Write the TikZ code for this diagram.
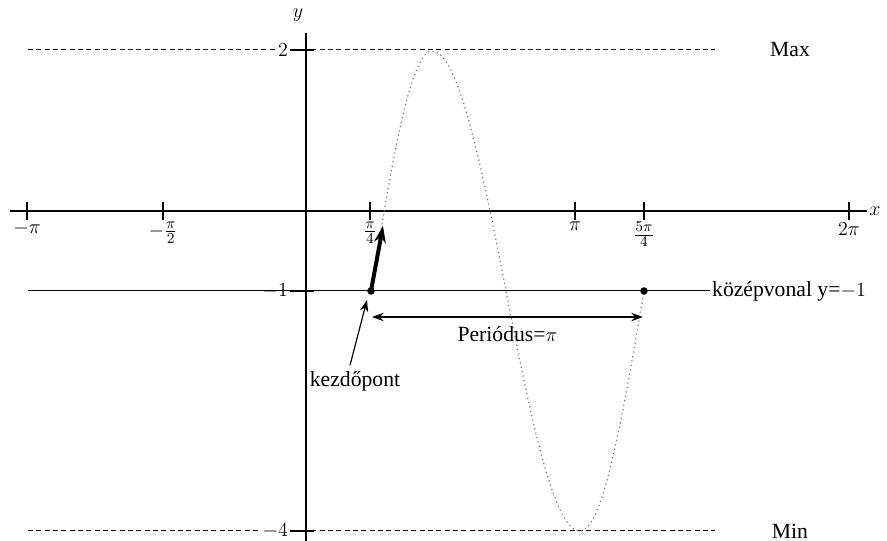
\documentclass[tikz,border=0pt]{standalone}
\usepackage{fontspec}
\setmainfont{Liberation Serif}
\usetikzlibrary{arrows.meta}

\begin{document}
\begin{tikzpicture}[
  x=0.6pt, y=0.6pt,
  font=\fontsize{13}{15}\selectfont,
  axis/.style={line width=0.8pt},
  tick/.style={line width=0.8pt},
  guide/.style={dash pattern=on 3pt off 2pt, line width=0.6pt},
  midline/.style={line width=0.6pt},
  curve/.style={dotted, line width=0.7pt, black!55},
  arr/.style={-{Stealth[length=7pt, width=5pt]}, line width=0.7pt},
  dot/.style={circle, fill, inner sep=0pt, minimum size=4.5pt},
  lbl/.style={inner sep=1pt},
  ylbl/.style={inner sep=1pt, anchor=east},
]
\useasboundingbox (-306,-330) rectangle (581,211);

% Max / Min guides and midline
\draw[guide] (-278,161) -- (409,161);
\draw[guide] (-278,-320) -- (409,-320);
\draw[midline] (-278,-80) -- (404,-80) node[right, lbl] (midlab) {középvonal y=$-1$};
\node (max) at (484,161) {Max};
\node (min) at (484,-320) {Min};

% Axes
\coordinate (xl) at (-296,0);
\coordinate (xr) at (561,0);
\coordinate (yb) at (0,-330);
\coordinate (yt) at (0,178);
\draw[axis] (xl) -- (xr) node[right, lbl] (xlab) {$x$};
\draw[axis] (yb) -- (yt);
\node (ylab) at (-8,196) {$y$};

% x ticks
\draw[tick] (-279,9) -- (-279,-9) node[below, lbl] (tmpi) {$-\pi$};
\draw[tick] (-143,9) -- (-143,-9) node[below, lbl] (tmhalf) {$-\frac{\pi}{2}$};
\draw[tick] (64,9) -- (64,-9) node[below, lbl] (tquart) {$\frac{\pi}{4}$};
\draw[tick] (269,9) -- (269,-9) node[below, lbl] (tpi) {$\pi$};
\draw[tick] (338,9) -- (338,-9) node[below, lbl] (tfive) {$\frac{5\pi}{4}$};
\draw[tick] (543,9) -- (543,-9) node[below, lbl] (ttwopi) {$2\pi$};

% y ticks
\draw[tick] (-16,161) -- (8,161);
\draw[tick] (-16,-80) -- (8,-80);
\draw[tick] (-16,-320) -- (8,-320);
\node[ylbl, fill=white] (ytwo) at (-16,161) {$2$};
\node[ylbl] (yone) at (-16,-80) {$-1$};
\node[ylbl, fill=white] (yfour) at (-16,-320) {$-4$};

% the graph
\draw[curve] plot[domain=0:90, samples=30] ({65+\x/90*61}, {-80+240*sin(\x)})
  -- plot[domain=90:270, samples=60] ({126+(\x-90)/180*148}, {-80+240*sin(\x)})
  -- plot[domain=270:360, samples=30] ({274+(\x-270)/90*64}, {-80+240*sin(\x)});

% start point and period
\node[dot] (start) at (65,-80) {};
\node[dot] (stop) at (338,-80) {};
\coordinate (tip) at (77,-15);
\draw[-{Stealth[length=10pt, width=7pt]}, line width=2.4pt] (start.center) -- (tip);

\coordinate (pa) at (66,-106);
\coordinate (pb) at (337,-106);
\draw[{Stealth[length=7pt, width=5pt]}-{Stealth[length=7pt, width=5pt]}, line width=0.8pt] (pa) -- (pb)
  node[midway, below=2pt] (per) {Periódus=$\pi$};

\node (kezd) at (49,-170) {kezdőpont};
\coordinate (kezdtip) at (61,-89);
\draw[arr] ([xshift=-3pt]kezd.north) -- (kezdtip);
\end{tikzpicture}
\end{document}
